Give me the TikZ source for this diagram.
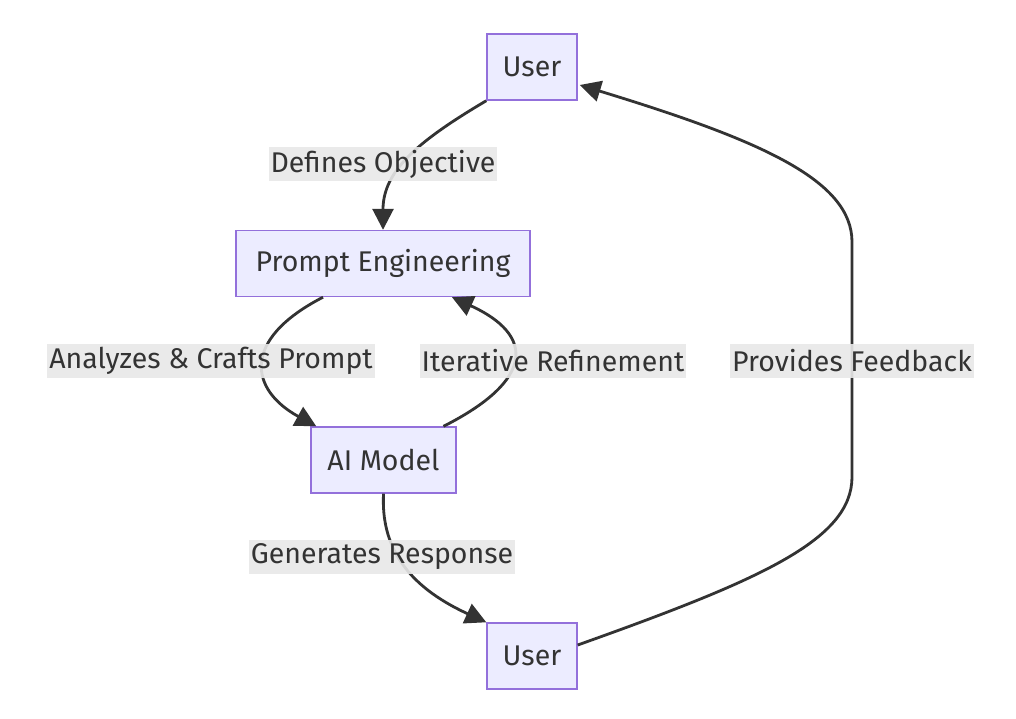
\documentclass[tikz,border=0pt]{standalone}
\usepackage{fontspec}
\setmainfont{Fira Sans}
\usetikzlibrary{arrows.meta,calc}
\definecolor{nodefill}{HTML}{ECECFF}
\definecolor{nodeline}{HTML}{9370DB}
\definecolor{ink}{HTML}{333333}
\definecolor{lblbg}{HTML}{E8E8E8}
\begin{document}
\begin{tikzpicture}[x=1pt,y=-1pt,
  box/.style={draw=nodeline,fill=nodefill,line width=1.4pt,minimum height=66pt,inner xsep=0pt,inner ysep=0pt,text=ink,font=\fontsize{28.5}{34}\selectfont},
  lbl/.style={fill=lblbg,fill opacity=0.9,text opacity=1,text=ink,inner xsep=2pt,inner ysep=0pt,minimum height=34pt,font=\fontsize{28.5}{34}\selectfont},
  link/.style={draw=ink,line width=2.8pt,-{Triangle[length=21pt,width=21pt]}}]
\useasboundingbox (0,0) rectangle (1016,718);
\node[box,minimum width=90pt] (utop) at (532,67) {User};
\node[box,minimum width=294pt] (pe) at (383,263.5) {Prompt Engineering};
\node[box,minimum width=145pt] (ai) at (383.5,460) {AI Model};
\node[box,minimum width=90pt] (ubot) at (532,656) {User};

\draw[link] (utop.south west) .. controls (420,140) and (383,170) .. (pe.north);
\draw[link] ($(pe.south)+(-60,0)$) .. controls (240,340) and (250,390) .. ($(ai.north west)+(6,0)$);
\draw[link] ($(ai.north)+(60,0)$) .. controls (535,380) and (535,335) .. ($(pe.south)+(69,0)$);
\draw[link] (ai.south) .. controls (381,545) and (405,585) .. (ubot.north west);
\draw[link] ($(ubot.east)+(0,-11)$) .. controls (760,580) and (852,540) .. (852,477)
  -- (852,242) .. controls (852,180) and (760,140) .. ($(utop.east)+(2,18)$);

\node[lbl] (l1) at (383,164) {Defines Objective};
\node[lbl] (l2) at (211,361) {Analyzes \& Crafts Prompt};
\node[lbl] (l3) at (553,361) {Iterative Refinement};
\node[lbl] (l4) at (382,557) {Generates Response};
\node[lbl] (l5) at (852,361) {Provides Feedback};
\end{tikzpicture}
\end{document}
